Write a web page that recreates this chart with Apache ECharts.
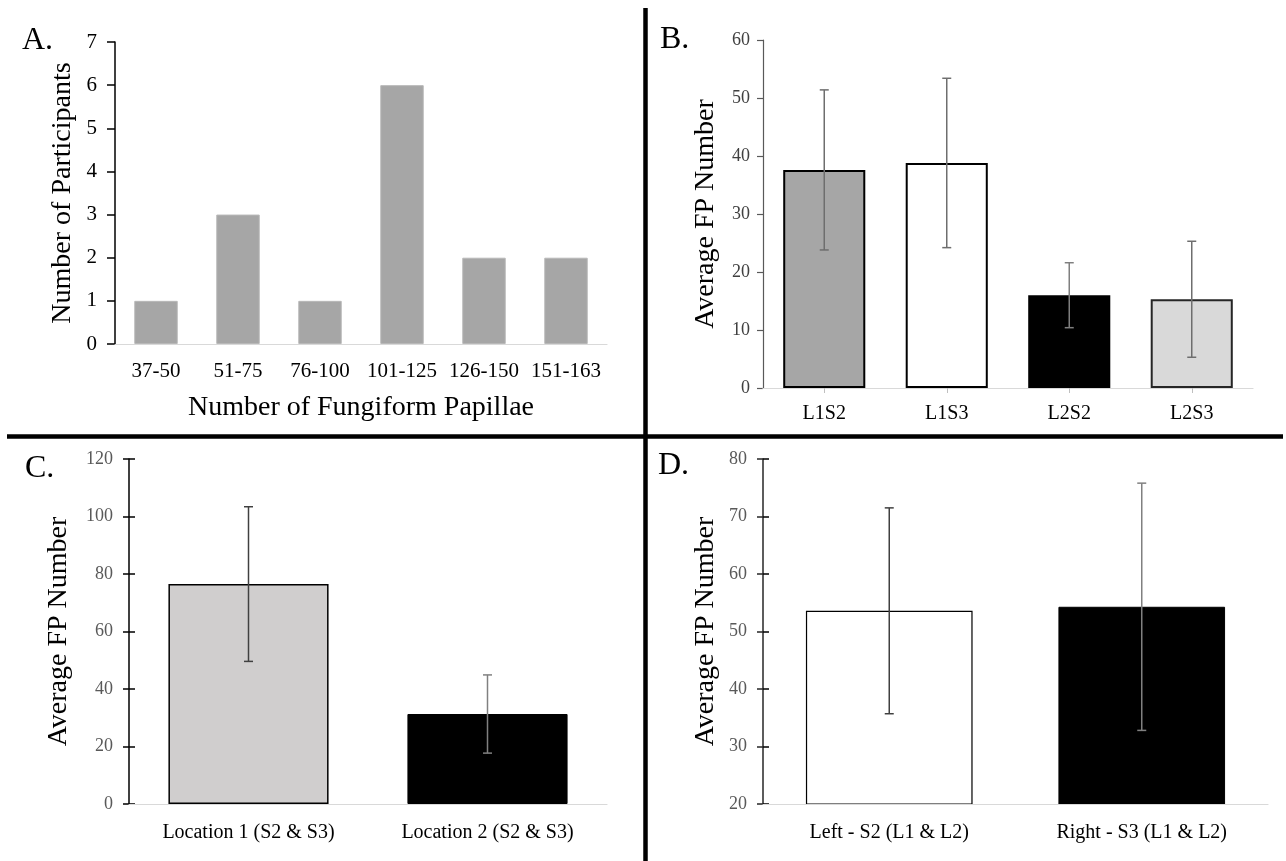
<!DOCTYPE html>
<html>
<head>
<meta charset="utf-8">
<title>Fungiform papillae counts</title>
<script src="https://cdn.jsdelivr.net/npm/echarts@6/dist/echarts.min.js"></script>
<style>
  html, body { margin: 0; padding: 0; background: #ffffff; }
  #chart { width: 1286px; height: 861px; }
</style>
</head>
<body>
<div id="chart"></div>
<script>
// Panel A: distribution of participants by papillae count
const rangeLabels = ['37-50', '51-75', '76-100', '101-125', '126-150', '151-163'];
const participantCounts = [1, 3, 1, 6, 2, 2];

// Panel B: location x side combinations
const comboLabels = ['L1S2', 'L1S3', 'L2S2', 'L2S3'];
const comboMeans = [37.6, 38.8, 16.0, 15.3];
const comboErrors = [13.8, 14.6, 5.6, 10.0];

// Panel C: by location
const locationLabels = ['Location 1 (S2 & S3)', 'Location 2 (S2 & S3)'];
const locationMeans = [76.5, 31.3];
const locationErrors = [26.9, 13.6];

// Panel D: by side
const sideLabels = ['Left - S2 (L1 & L2)', 'Right - S3 (L1 & L2)'];
const sideMeans = [53.6, 54.3];
const sideErrors = [17.9, 21.5];

const SERIF = '"Liberation Serif", "Times New Roman", serif';

const chart = echarts.init(document.getElementById('chart'), null, { renderer: 'canvas' });

// Vertical error bar with end caps, drawn in axis coordinates
function errorBarItem(params, api) {
  const x = api.value(0);
  const lo = api.coord([x, api.value(1)]);
  const hi = api.coord([x, api.value(2)]);
  const half = 4.5;
  const style = { stroke: api.visual('color'), lineWidth: 1.5 };
  return {
    type: 'group',
    children: [
      { type: 'line', shape: { x1: hi[0], y1: hi[1], x2: lo[0], y2: lo[1] }, style },
      { type: 'line', shape: { x1: hi[0] - half, y1: hi[1], x2: hi[0] + half, y2: hi[1] }, style },
      { type: 'line', shape: { x1: lo[0] - half, y1: lo[1], x2: lo[0] + half, y2: lo[1] }, style }
    ]
  };
}

function errorData(means, errs, colors) {
  return means.map((m, i) => ({
    value: [i, m - errs[i], m + errs[i]],
    itemStyle: { color: colors[i] }
  }));
}

function barData(values, fills, borders, widths) {
  return values.map((v, i) => ({
    value: v,
    itemStyle: { color: fills[i], borderColor: borders[i], borderWidth: widths[i] }
  }));
}

function categoryAxis(gridIndex, labels, opts) {
  return Object.assign({
    type: 'category',
    gridIndex,
    data: labels,
    z: 3,
    axisLine: { show: true, lineStyle: { color: '#d9d9d9', width: 1.2 } },
    axisTick: { show: false },
    axisLabel: { fontFamily: SERIF, fontSize: 20, color: '#000000', margin: 18, interval: 0 },
    nameTextStyle: { fontFamily: SERIF, fontSize: 28, color: '#000000' }
  }, opts || {});
}

function valueAxis(gridIndex, min, max, interval, opts) {
  return Object.assign({
    type: 'value',
    gridIndex,
    position: 'left',
    min, max, interval,
    splitLine: { show: false },
    axisLine: { show: true, lineStyle: { color: '#000000', width: 1.5 } },
    axisTick: { show: true, length: 7, lineStyle: { color: '#000000', width: 1.5 } },
    axisLabel: { fontFamily: SERIF, fontSize: 18, color: '#595959', margin: 16 },
    name: 'Average FP Number',
    nameLocation: 'middle',
    nameRotate: 90,
    nameGap: 43,
    nameTextStyle: { fontFamily: SERIF, fontSize: 28, color: '#000000' }
  }, opts || {});
}

// Inner half of the cross-style ticks on panels C and D
function innerTickAxis(gridIndex, min, max, interval) {
  return {
    type: 'value', gridIndex, min, max, interval,
    position: 'left',
    offset: 0,
    splitLine: { show: false },
    axisLine: { show: false },
    axisLabel: { show: false },
    axisTick: { show: true, inside: true, length: 6, lineStyle: { color: '#000000', width: 1.5 } }
  };
}

const option = {
  backgroundColor: '#ffffff',
  animation: false,
  grid: [
    { left: 115, top: 42, width: 492, height: 302 },
    { left: 763, top: 40, width: 490, height: 348 },
    { left: 129, top: 459, width: 478, height: 345 },
    { left: 763, top: 459, width: 505, height: 345 }
  ],
  xAxis: [
    categoryAxis(0, rangeLabels, {
      name: 'Number of Fungiform Papillae',
      nameLocation: 'middle',
      nameGap: 50,
      axisLabel: { fontFamily: SERIF, fontSize: 21, color: '#000000', margin: 17, interval: 0 }
    }),
    categoryAxis(1, comboLabels, {
      axisTick: { show: true, alignWithLabel: true, length: 5, lineStyle: { color: '#bfbfbf' } },
      axisLabel: { fontFamily: SERIF, fontSize: 20, color: '#000000', margin: 16, interval: 0 }
    }),
    categoryAxis(2, locationLabels, {
      axisLabel: { fontFamily: SERIF, fontSize: 20, color: '#000000', margin: 19, interval: 0 }
    }),
    categoryAxis(3, sideLabels, {
      axisLabel: { fontFamily: SERIF, fontSize: 20, color: '#000000', margin: 19, interval: 0 }
    })
  ],
  yAxis: [
    valueAxis(0, 0, 7, 1, {
      name: 'Number of Participants',
      nameGap: 38,
      axisTick: { show: true, length: 8, lineStyle: { color: '#000000', width: 1.5 } },
      axisLabel: { fontFamily: SERIF, fontSize: 21, color: '#000000', margin: 18 }
    }),
    valueAxis(1, 0, 60, 10, {
      axisLine: { show: true, lineStyle: { color: '#595959', width: 1.2 } },
      axisTick: { show: true, length: 6, lineStyle: { color: '#595959', width: 1.2 } },
      axisLabel: { fontFamily: SERIF, fontSize: 18, color: '#404040', margin: 13 },
      nameGap: 43
    }),
    valueAxis(2, 0, 120, 20, {
      axisTick: { show: true, length: 6, lineStyle: { color: '#000000', width: 1.5 } },
      nameGap: 56
    }),
    valueAxis(3, 20, 80, 10, {
      axisLine: { show: true, lineStyle: { color: '#262626', width: 1.5 } },
      axisTick: { show: true, length: 6, lineStyle: { color: '#262626', width: 1.5 } },
      nameGap: 43
    }),
    innerTickAxis(2, 0, 120, 20),
    innerTickAxis(3, 20, 80, 10)
  ],
  series: [
    {
      type: 'bar', xAxisIndex: 0, yAxisIndex: 0,
      barWidth: '53%',
      data: participantCounts,
      itemStyle: { color: '#a6a6a6', borderColor: '#b8b8b8', borderWidth: 1 }
    },
    {
      type: 'bar', xAxisIndex: 1, yAxisIndex: 1,
      barWidth: '67%',
      data: barData(comboMeans,
        ['#a6a6a6', '#ffffff', '#000000', '#d9d9d9'],
        ['#000000', '#000000', '#000000', '#262626'],
        [2, 2, 2, 2])
    },
    {
      type: 'custom', xAxisIndex: 1, yAxisIndex: 1,
      renderItem: errorBarItem,
      z: 5,
      data: errorData(comboMeans, comboErrors, ['#6e6e6e', '#6e6e6e', '#7f7f7f', '#6e6e6e'])
    },
    {
      type: 'bar', xAxisIndex: 2, yAxisIndex: 2,
      barWidth: '67%',
      data: barData(locationMeans,
        ['#d0cece', '#000000'],
        ['#000000', '#000000'],
        [1.5, 1])
    },
    {
      type: 'custom', xAxisIndex: 2, yAxisIndex: 2,
      renderItem: errorBarItem,
      z: 5,
      data: errorData(locationMeans, locationErrors, ['#404040', '#808080'])
    },
    {
      type: 'bar', xAxisIndex: 3, yAxisIndex: 3,
      barWidth: '66%',
      clip: true,
      data: barData(sideMeans,
        ['#ffffff', '#000000'],
        ['#000000', '#000000'],
        [1.2, 1])
    },
    {
      type: 'custom', xAxisIndex: 3, yAxisIndex: 3,
      renderItem: errorBarItem,
      z: 5,
      data: errorData(sideMeans, sideErrors, ['#404040', '#808080'])
    }
  ],
  graphic: [
    // panel dividers
    { type: 'line', shape: { x1: 645.5, y1: 8, x2: 645.5, y2: 861 }, style: { stroke: '#000000', lineWidth: 4.5 }, z: 10 },
    { type: 'line', shape: { x1: 7, y1: 436.5, x2: 1283, y2: 436.5 }, style: { stroke: '#000000', lineWidth: 4.5 }, z: 10 },
    // panel letters
    { type: 'text', x: 22, y: 41, style: { text: 'A.', font: '32px ' + SERIF, fill: '#000000', verticalAlign: 'middle' } },
    { type: 'text', x: 660, y: 40, style: { text: 'B.', font: '32px ' + SERIF, fill: '#000000', verticalAlign: 'middle' } },
    { type: 'text', x: 25, y: 469, style: { text: 'C.', font: '32px ' + SERIF, fill: '#000000', verticalAlign: 'middle' } },
    { type: 'text', x: 658, y: 466, style: { text: 'D.', font: '32px ' + SERIF, fill: '#000000', verticalAlign: 'middle' } }
  ]
};

chart.setOption(option);
</script>
</body>
</html>
